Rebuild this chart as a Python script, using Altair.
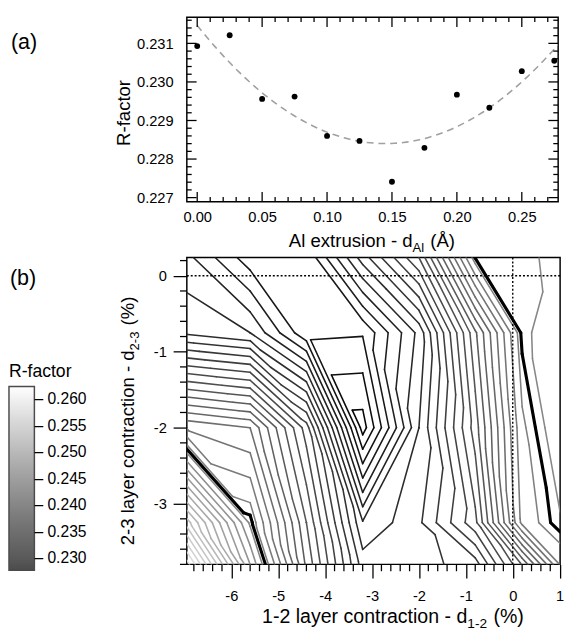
import altair as alt
import numpy as np
import pandas as pd

FONT = "Liberation Sans"

# ---------------- panel (a): R-factor vs Al extrusion ----------------
al_extrusion = [0.000, 0.025, 0.050, 0.075, 0.100, 0.125, 0.150, 0.175, 0.200, 0.225, 0.250, 0.275]
r_factor_a = [0.23093, 0.23121, 0.22956, 0.22962, 0.22860, 0.22847, 0.22741, 0.22829,
              0.22967, 0.22933, 0.23028, 0.23055]
a_x_major = [0.00, 0.05, 0.10, 0.15, 0.20, 0.25]
a_x_minor = [0.01, 0.02, 0.03, 0.04, 0.06, 0.07, 0.08, 0.09, 0.11, 0.12, 0.13, 0.14,
             0.16, 0.17, 0.18, 0.19, 0.21, 0.22, 0.23, 0.24, 0.26, 0.27]
a_y_major = [0.227, 0.228, 0.229, 0.230, 0.231]
a_y_minor = [0.2272, 0.2274, 0.2276, 0.2278, 0.2282, 0.2284, 0.2286, 0.2288,
             0.2292, 0.2294, 0.2296, 0.2298, 0.2302, 0.2304, 0.2306, 0.2308,
             0.2312, 0.2314, 0.2316]

# ---------------- panel (b): R-factor map on a (d12, d23) grid ----------------
d12_nodes = [-6.95, -5.6, -4.4, -3.2, -2.0, -0.8, 0.2, 1.01]
d23_nodes = [0.24, -0.75, -2.0, -3.25, -3.8]
r_row_p024 = [0.2343, 0.2314, 0.2311, 0.2365, 0.2410, 0.25055, 0.2508, 0.25125]
r_row_m075 = [0.2358, 0.2350, 0.2312, 0.2311, 0.2353, 0.2438, 0.2507, 0.2519]
r_row_m200 = [0.2479, 0.2470, 0.2405, 0.2285, 0.2360, 0.2425, 0.2498, 0.2518]
r_row_m325 = [0.2595, 0.2508, 0.2430, 0.2351, 0.2368, 0.2407, 0.2493, 0.2509]
r_row_m380 = [0.2645, 0.2530, 0.2438, 0.2365, 0.2366, 0.2375, 0.2431, 0.2491]
contour_levels = [round(0.229 + 0.001 * k, 4) for k in range(37)]
thick_level = 0.2505
legend_ticks = [0.230, 0.235, 0.240, 0.245, 0.250, 0.255, 0.260]
b_x_major = [-6, -5, -4, -3, -2, -1, 0, 1]
b_y_major = [-3, -2, -1, 0]
b_x_minor = [round(-6.8 + 0.2 * k, 1) for k in range(40) if (k + 1) % 5 != 0]
b_y_minor = [round(-3.8 + 0.2 * k, 1) for k in range(21) if (k + 1) % 5 != 0]
ref_zero = [0.0]

grid = [r_row_p024, r_row_m075, r_row_m200, r_row_m325, r_row_m380]


def tri_cross(pts, vals, lev):
    out = []
    for a, b in ((0, 1), (1, 2), (2, 0)):
        va, vb = vals[a], vals[b]
        if (va >= lev) != (vb >= lev):
            t = (lev - va) / (vb - va)
            out.append((pts[a][0] + t * (pts[b][0] - pts[a][0]),
                        pts[a][1] + t * (pts[b][1] - pts[a][1])))
    return out


def contour_segments(levels):
    rows = []
    for j in range(len(d23_nodes) - 1):
        for i in range(len(d12_nodes) - 1):
            TL = (d12_nodes[i], d23_nodes[j]); TR = (d12_nodes[i + 1], d23_nodes[j])
            BL = (d12_nodes[i], d23_nodes[j + 1]); BR = (d12_nodes[i + 1], d23_nodes[j + 1])
            vTL, vTR = grid[j][i], grid[j][i + 1]
            vBL, vBR = grid[j + 1][i], grid[j + 1][i + 1]
            # split each cell along the diagonal whose end values differ least
            if abs(vTL - vBR) <= abs(vTR - vBL):
                tris = (((TL, TR, BR), (vTL, vTR, vBR)), ((TL, BL, BR), (vTL, vBL, vBR)))
            else:
                tris = (((TL, TR, BL), (vTL, vTR, vBL)), ((TR, BL, BR), (vTR, vBL, vBR)))
            for pts, vals in tris:
                for lev in levels:
                    c = tri_cross(pts, vals, lev)
                    if len(c) == 2:
                        rows.append({"x": c[0][0], "y": c[0][1], "x2": c[1][0], "y2": c[1][1], "level": lev})
    return pd.DataFrame(rows)


seg_df = contour_segments(contour_levels)
thick_df = contour_segments([thick_level])

# ---------------- helpers ----------------
def text_piece(txt, x, y, size, align="left", angle=0, dx=0, dy=0):
    kw = dict(align=align, baseline="alphabetic", fontSize=size, font=FONT, color="black")
    if dx:
        kw["dx"] = dx
    if dy:
        kw["dy"] = dy
    if angle:
        kw["angle"] = angle
    return alt.Chart(pd.DataFrame({"t": [txt]})).mark_text(**kw).encode(
        x=alt.value(x), y=alt.value(y), text="t:N")


def sub_title(main, sub, suffix, x, y, size, sub_em, angle=0):
    ss = round(size * 0.7, 1)
    return [
        text_piece(main, x, y, size, align="right", angle=angle),
        text_piece(sub, x, y, ss, align="left", angle=angle, dy=round(size * 0.27, 1)),
        text_piece(suffix, x, y, size, align="left", angle=angle,
                   dx=round(sub_em * ss + 0.278 * size + 1, 1)),
    ]


# ---------------- panel (a) ----------------
WA, HA = 380, 189
ax_scale = alt.Scale(domain=[-0.008, 0.278], nice=False, zero=False)
ay_scale = alt.Scale(domain=[0.22689, 0.23168], nice=False, zero=False)
ax_axis = alt.Axis(values=a_x_major, format=".2f", ticks=False, domain=False, grid=False,
                   labelPadding=8, labelFontSize=15, labelFont=FONT, labelColor="black", title=None)
ay_axis = alt.Axis(values=a_y_major, format=".3f", ticks=False, domain=False, grid=False,
                   labelPadding=14, labelFontSize=15, labelFont=FONT, labelColor="black", title=None)

coef = np.polyfit(al_extrusion, r_factor_a, 2)
fit_x = np.linspace(0.0, 0.278, 120)
fit_df = pd.DataFrame({"x": fit_x, "r": np.polyval(coef, fit_x)})
pts_df = pd.DataFrame({"x": al_extrusion, "r": r_factor_a})

fit_line = alt.Chart(fit_df).mark_line(strokeDash=[7, 5], color="#a0a0a0", strokeWidth=1.6, clip=True).encode(
    x=alt.X("x:Q", scale=ax_scale, axis=ax_axis), y=alt.Y("r:Q", scale=ay_scale, axis=ay_axis))
points = alt.Chart(pts_df).mark_circle(size=36, color="black", opacity=1).encode(
    x=alt.X("x:Q", scale=ax_scale, axis=ax_axis), y=alt.Y("r:Q", scale=ay_scale, axis=ay_axis))


def vticks(vals, y0, y1):
    return alt.Chart(pd.DataFrame({"v": vals})).mark_rule(color="black", strokeWidth=1.3).encode(
        x=alt.X("v:Q", scale=ax_scale, axis=ax_axis), y=alt.value(y0), y2=alt.value(y1))


def hticks(vals, x0, x1):
    return alt.Chart(pd.DataFrame({"v": vals})).mark_rule(color="black", strokeWidth=1.3).encode(
        y=alt.Y("v:Q", scale=ay_scale, axis=ay_axis), x=alt.value(x0), x2=alt.value(x1))


a_ticks = [
    vticks(a_x_major, HA, HA - 10), vticks(a_x_minor, HA, HA - 5),
    vticks(a_x_major, 0, 10), vticks(a_x_minor, 0, 5),
    hticks(a_y_major, 0, 10), hticks(a_y_minor, 0, 5),
    hticks(a_y_major, WA, WA - 10), hticks(a_y_minor, WA, WA - 5),
]

a_texts = [text_piece("(a)", -180, 33, 22),
           text_piece("R-factor", -58, 98, 19, align="center", angle=270)]
a_texts += sub_title("Al extrusion - d", "Al", "(Å)", 231, 235, 19, 0.889)

panel_a = alt.layer(fit_line, points, *a_ticks, *a_texts).properties(width=WA, height=HA)

# ---------------- panel (b) ----------------
WB, HB = 382, 314
bx_scale = alt.Scale(domain=[-6.95, 1.01], nice=False, zero=False)
by_scale = alt.Scale(domain=[-3.80, 0.24], nice=False, zero=False)
bx_axis = alt.Axis(values=b_x_major, labelExpr="'' + datum.value", tickSize=14, tickWidth=1.3,
                   tickColor="black", domain=False, grid=False, labelPadding=11, labelFontSize=15,
                   labelFont=FONT, labelColor="black", title=None, labelFlush=False)
by_axis = alt.Axis(values=b_y_major, labelExpr="'' + datum.value", tickSize=14, tickWidth=1.3,
                   tickColor="black", domain=False, grid=False, labelPadding=7, labelFontSize=15,
                   labelFont=FONT, labelColor="black", title=None)

contours = alt.Chart(seg_df).mark_rule(clip=True, strokeWidth=1.6, strokeCap="round").encode(
    x=alt.X("x:Q", scale=bx_scale, axis=bx_axis), y=alt.Y("y:Q", scale=by_scale, axis=by_axis),
    x2="x2:Q", y2="y2:Q",
    color=alt.Color("level:Q", legend=None,
                    scale=alt.Scale(type="pow", exponent=1.3, domain=[0.2285, 0.268],
                                    range=["#000000", "#ffffff"])))
thick = alt.Chart(thick_df).mark_rule(clip=True, strokeWidth=3.2, strokeCap="round", color="black").encode(
    x=alt.X("x:Q", scale=bx_scale, axis=bx_axis), y=alt.Y("y:Q", scale=by_scale, axis=by_axis),
    x2="x2:Q", y2="y2:Q")
vzero = alt.Chart(pd.DataFrame({"v": ref_zero})).mark_rule(color="black", strokeWidth=1.4, strokeDash=[2, 2]).encode(
    x=alt.X("v:Q", scale=bx_scale, axis=bx_axis))
hzero = alt.Chart(pd.DataFrame({"v": ref_zero})).mark_rule(color="black", strokeWidth=1.4, strokeDash=[2, 2]).encode(
    y=alt.Y("v:Q", scale=by_scale, axis=by_axis))
bx_minor = alt.Chart(pd.DataFrame({"v": b_x_minor})).mark_rule(color="black", strokeWidth=1.3).encode(
    x=alt.X("v:Q", scale=bx_scale, axis=bx_axis), y=alt.value(HB), y2=alt.value(HB + 7))
by_minor = alt.Chart(pd.DataFrame({"v": b_y_minor})).mark_rule(color="black", strokeWidth=1.3).encode(
    y=alt.Y("v:Q", scale=by_scale, axis=by_axis), x=alt.value(0), x2=alt.value(-7))

legend_layer = alt.Chart(pd.DataFrame({"v": legend_ticks})).mark_point(size=0, strokeWidth=0).encode(
    x=alt.value(0), y=alt.value(0),
    color=alt.Color("v:Q", scale=alt.Scale(domain=[0.2278, 0.2624], range=["#000000", "#ffffff"]),
                    legend=alt.Legend(orient="none", legendX=-182, legendY=108, direction="vertical",
                                      title="R-factor", titleFontSize=18, titleFont=FONT,
                                      titleFontWeight="normal", titleColor="black", titlePadding=6,
                                      gradientLength=188, gradientThickness=26,
                                      gradientStrokeColor="black", gradientStrokeWidth=1.5,
                                      values=legend_ticks, format=".3f", labelFontSize=16,
                                      labelFont=FONT, labelColor="black", labelOffset=0,
                                      labelExpr="'\u2013 ' + datum.label", labelOverlap=False,
                                      padding=0)))

b_texts = [text_piece("(b)", -181, 28, 22)]
b_texts += sub_title("2-3 layer contraction - d", "2-3", "(%)", -54, 95, 19, 1.445, angle=270)
b_texts += sub_title("1-2 layer contraction - d", "1-2", "(%)", 287, 374, 20, 1.445)

panel_b = alt.layer(contours, thick, vzero, hzero, bx_minor, by_minor, legend_layer, *b_texts).resolve_scale(
    color="independent").properties(width=WB, height=HB)

chart = alt.vconcat(panel_a, panel_b, spacing=57, bounds="flush").properties(
    padding={"left": 0, "top": 0, "right": 0, "bottom": 0}
).configure(font=FONT).configure_view(stroke="black", strokeWidth=1.5)

chart.save("out.html", embed_options={"renderer": "svg", "actions": False})
